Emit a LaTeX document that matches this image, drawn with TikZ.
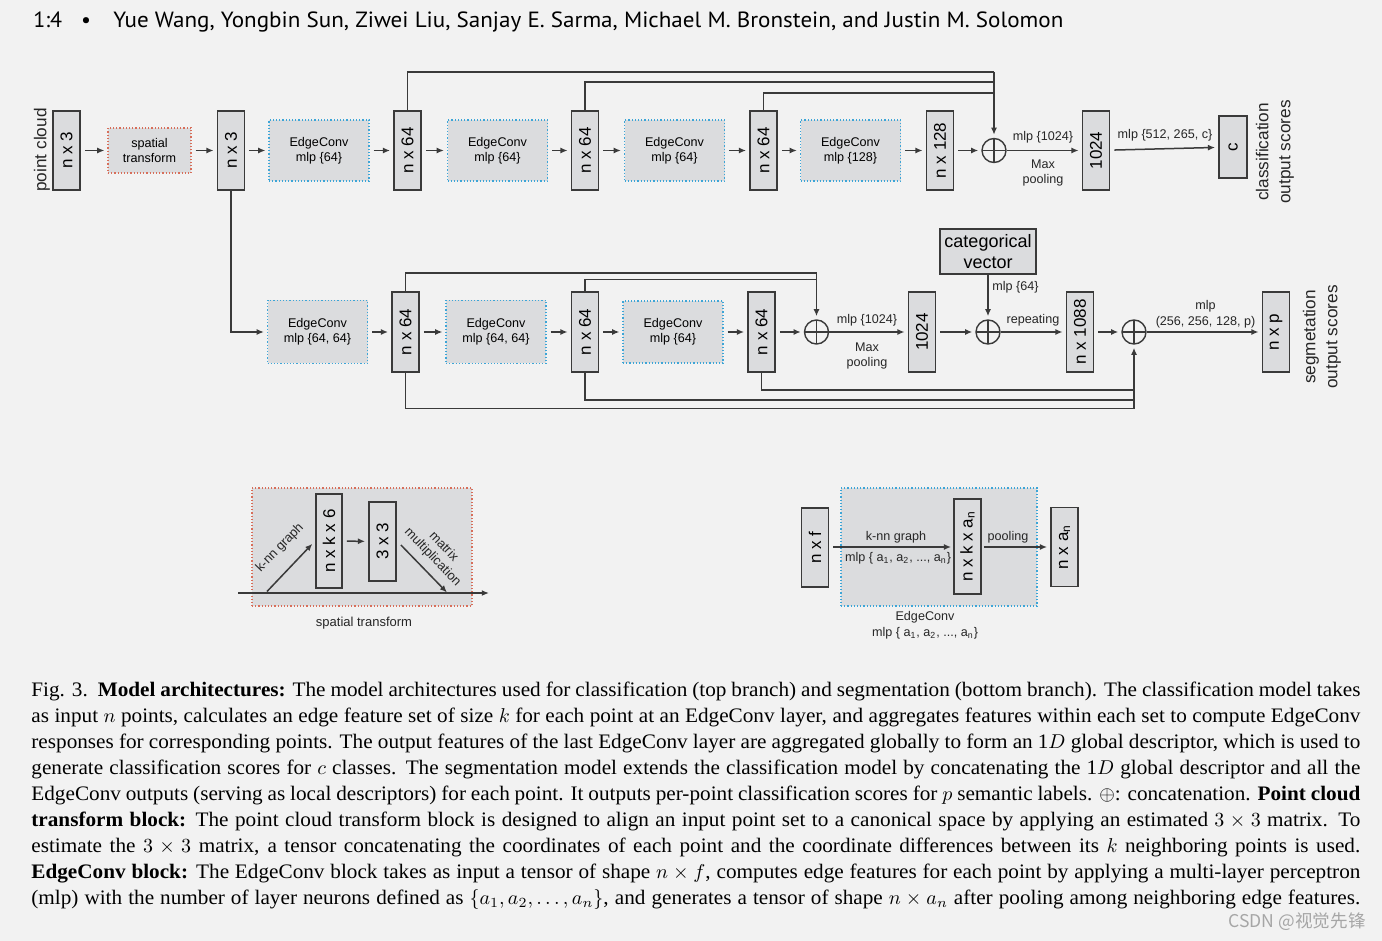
\documentclass[tikz,border=0pt]{standalone}
\usepackage{fontspec}
\setmainfont{Liberation Serif}[FakeStretch=1.03]
\newfontfamily\dia{Liberation Sans}
\newfontfamily\hdr{PT Sans}
\newfontfamily\cjk{Noto Sans CJK SC}
\usetikzlibrary{arrows.meta,calc}
\definecolor{bg}{RGB}{242,242,242}
\definecolor{boxfill}{RGB}{219,220,222}
\definecolor{linec}{RGB}{58,58,58}
\definecolor{ecblue}{RGB}{60,165,215}
\definecolor{stred}{RGB}{215,110,90}
\newcommand\rotlabel[1]{\rotatebox{90}{#1}}
\begin{document}
\begin{tikzpicture}[x=0.5pt,y=-0.5pt,
  tensor/.style={draw=linec,fill=boxfill,line width=0.9pt,inner sep=0pt,minimum width=13.5pt,minimum height=39.5pt,font=\dia\fontsize{8.5}{10}\selectfont},
  tensorline/.style={tensor,fill=none},
  ecbox/.style={draw=ecblue,densely dotted,line width=0.6pt,fill=boxfill,inner sep=0pt,minimum width=50pt,minimum height=30.5pt,align=center,font=\dia\fontsize{6.3}{7.4}\selectfont},
  stbox/.style={ecbox,draw=stred},
  opl/.style={circle,draw=linec,line width=0.7pt,minimum size=12pt,inner sep=0pt,
    path picture={\draw[linec,line width=0.6pt] (path picture bounding box.north) -- (path picture bounding box.south) (path picture bounding box.west) -- (path picture bounding box.east);}},
  arr/.style={draw=linec,line width=0.75pt,-{Latex[length=3.6pt,width=3pt]},shorten <=2pt,shorten >=1.5pt},
  conn/.style={draw=linec,line width=0.75pt},
  lbl/.style={inner sep=0pt,align=center,text=black!85,font=\dia\fontsize{6.3}{7.5}\selectfont},
  rotl/.style={inner sep=0pt,align=center,rotate=90,text=black!85,font=\dia\fontsize{8.6}{11}\selectfont},
  capline/.style={anchor=base west,inner sep=0pt,font=\fontsize{10.3}{13}\selectfont}
]
\path[use as bounding box,fill=bg] (0,0) rectangle (1382,941);

% ---------- header ----------
\node[anchor=base west,inner sep=0pt,font=\hdr\fontsize{11}{13}\selectfont] (hp) at (33,28) {1:4};
\node[anchor=base,inner sep=0pt,font=\hdr\fontsize{11}{13}\selectfont] (hb) at (86,28) {•};
\node[anchor=base west,inner sep=0pt,font=\hdr\fontsize{11}{13}\selectfont] (ha) at (113,28) {\resizebox{475pt}{\height}{Yue Wang, Yongbin Sun, Ziwei Liu, Sanjay E. Sarma, Michael M. Bronstein, and Justin M. Solomon}};

% ---------- top branch ----------
\node[rotl] (pcl) at (42,150) {point cloud};
\node[tensor] (pc) at (66.5,150.5) {\rotlabel{n x 3}};
\node[stbox,minimum width=41.5pt,minimum height=22.5pt] (st) at (149.5,150.5) {spatial\\transform};
\node[tensor] (t1) at (231,150.5) {\rotlabel{n x 3}};
\node[ecbox] (e1) at (319,150.5) {EdgeConv\\mlp \{64\}};
\node[tensor] (t2) at (407.5,150.5) {\rotlabel{n x 64}};
\node[ecbox] (e2) at (497.5,150.5) {EdgeConv\\mlp \{64\}};
\node[tensor] (t3) at (585,150.5) {\rotlabel{n x 64}};
\node[ecbox] (e3) at (674.5,150.5) {EdgeConv\\mlp \{64\}};
\node[tensor] (t4) at (763.5,150.5) {\rotlabel{n x 64}};
\node[ecbox] (e4) at (850.5,150.5) {EdgeConv\\mlp \{128\}};
\node[tensor] (t5) at (940,150.5) {\rotlabel{n x 128}};
\node[opl] (c1) at (994,150.5) {};
\node[tensor] (g1) at (1096,150.5) {\rotlabel{1024}};
\node[tensor,minimum width=14pt,minimum height=31pt] (oc) at (1233,147) {\rotlabel{c}};
\node[rotl] (ocl) at (1275,152) {classification\\output scores};

\draw[arr] (pc) -- (st);
\draw[arr] (st) -- (t1);
\draw[arr] (t1) -- (e1);
\draw[arr] (e1) -- (t2);
\draw[arr] (t2) -- (e2);
\draw[arr] (e2) -- (t3);
\draw[arr] (t3) -- (e3);
\draw[arr] (e3) -- (t4);
\draw[arr] (t4) -- (e4);
\draw[arr] (e4) -- (t5);
\draw[arr] (t5) -- (c1);
\draw[arr,shorten <=0pt] (c1) -- (g1);
\draw[arr] (g1) -- (oc);

\coordinate (k1) at (994,72);
\coordinate (k2) at (994,82);
\coordinate (k3) at (994,93);
\draw[conn] (t2.north) |- (k1);
\draw[conn] (t3.north) |- (k2);
\draw[conn] (t4.north) |- (k3);
\draw[arr,shorten <=0pt] (k1) -- (c1.north);

\node[lbl] (l1a) at (1043,137) {mlp \{1024\}};
\node[lbl] (l1b) at (1043,173) {Max\\pooling};
\node[lbl] (l1c) at (1165,135) {mlp \{512, 265, c\}};

% ---------- bottom branch ----------
\node[ecbox,minimum height=31.5pt] (b1) at (317.5,332) {EdgeConv\\mlp \{64, 64\}};
\node[tensor,minimum height=40pt] (u1) at (405.5,332) {\rotlabel{n x 64}};
\node[ecbox,minimum height=31.5pt] (b2) at (496,332) {EdgeConv\\mlp \{64, 64\}};
\node[tensor,minimum height=40pt] (u2) at (585,332) {\rotlabel{n x 64}};
\node[ecbox,minimum height=31pt] (b3) at (673,332) {EdgeConv\\mlp \{64\}};
\node[tensor,minimum height=40pt] (u3) at (761.5,332) {\rotlabel{n x 64}};
\node[opl] (c2) at (816.5,332) {};
\node[tensor,minimum height=40pt] (g2) at (922,332) {\rotlabel{1024}};
\node[opl] (c3) at (988,332) {};
\node[draw=linec,fill=boxfill,line width=0.9pt,inner sep=0pt,minimum width=48pt,minimum height=22.5pt,align=center,font=\dia\fontsize{9}{10.3}\selectfont] (cv) at (988,251.5) {categorical\\vector};
\node[tensor,minimum height=40pt] (rp) at (1080,332) {\rotlabel{n x 1088}};
\node[opl] (c4) at (1134,332) {};
\node[tensor,minimum height=40pt] (sp) at (1276,332) {\rotlabel{n x p}};
\node[rotl] (spl) at (1322,337) {segmetation\\output scores};

\draw[arr,shorten <=0pt] (t1.south) |- (b1.west);
\draw[arr] (b1) -- (u1);
\draw[arr] (u1) -- (b2);
\draw[arr] (b2) -- (u2);
\draw[arr] (u2) -- (b3);
\draw[arr] (b3) -- (u3);
\draw[arr] (u3) -- (c2);
\draw[arr,shorten <=0pt] (c2) -- (g2);
\draw[arr] (g2) -- (c3);
\draw[arr,shorten <=0pt] (c3) -- (rp);
\draw[arr] (rp) -- (c4);
\draw[arr,shorten <=0pt] (c4) -- (sp);
\draw[arr,shorten <=0pt] (cv) -- (c3);

\coordinate (m1) at (816.5,273);
\coordinate (m2) at (816.5,279.5);
\draw[conn] (u1.north) |- (m1);
\draw[conn] (u2.north) |- (m2);
\draw[arr,shorten <=0pt] (m1) -- (c2.north);

\coordinate (q1) at (1134,390);
\coordinate (q2) at (1134,400);
\coordinate (q3) at (1134,408.5);
\draw[conn] (u3.south) |- (q1);
\draw[conn] (u2.south) |- (q2);
\draw[conn] (u1.south) |- (q3);
\draw[arr,shorten <=0pt] (q3) -- (c4.south);

\node[lbl] (l2a) at (867,320) {mlp \{1024\}};
\node[lbl] (l2b) at (867,356) {Max\\pooling};
\node[lbl,anchor=west] (l2c) at (992,287) {mlp \{64\}};
\node[lbl] (l2d) at (1033,320) {repeating};
\node[lbl,font=\dia\fontsize{6.3}{7.9}\selectfont] (l2e) at (1205.5,314) {mlp\\(256, 256, 128, p)};

% ---------- spatial transform block ----------
\node[stbox,minimum width=110pt,minimum height=59pt] (sb) at (362,547) {};
\node[tensorline,minimum height=47pt,minimum width=13pt] (nk6) at (329,541) {\rotlabel{n x k x 6}};
\node[tensorline,minimum height=39.5pt] (m33) at (382.5,541.5) {\rotlabel{3 x 3}};
\draw[arr] (nk6) -- (m33);
\coordinate (hl) at (238,593);
\coordinate (hr) at (489,593);
\draw[arr,shorten <=0pt,shorten >=0pt] (hl) -- (hr);
\coordinate (ka) at (267,591.5);
\draw[arr,shorten <=0pt,shorten >=0.5pt] (ka) -- ($(nk6.west)+(-2,2)$);
\coordinate (mb) at (447,592.5);
\draw[arr,shorten <=0pt,shorten >=0pt] ($(m33.east)+(4,3.5)$) -- (mb);
\node[lbl,rotate=46,font=\dia\fontsize{6.5}{7.6}\selectfont] (knl) at (280,548) {k-nn graph};
\node[lbl,rotate=-46,font=\dia\fontsize{6.5}{7.6}\selectfont] (mml) at (438,552) {matrix\\multiplication};
\node[lbl,font=\dia\fontsize{6.5}{7.6}\selectfont] (stl) at (364,623) {spatial transform};

% ---------- EdgeConv block ----------
\node[ecbox,minimum width=98pt,minimum height=59pt] (eb) at (939,547) {};
\node[tensor] (nf) at (815,547.5) {\rotlabel{n x f}};
\node[tensorline,minimum height=47.5pt] (nka) at (967.5,546.5) {\rotlabel{n x k x a\textsubscript{n}}};
\node[tensor] (na) at (1064.5,547) {\rotlabel{n x a\textsubscript{n}}};
\draw[arr,shorten >=1pt] (nf.east |- 0,547) -- (nka.west |- 0,547);
\draw[arr,shorten <=1pt] (nka.east |- 0,547) -- (na.west |- 0,547);
\node[lbl] (kg) at (896,537) {k-nn graph};
\node[lbl] (mg) at (898,558) {mlp \{ a\textsubscript{1}, a\textsubscript{2}, ..., a\textsubscript{n}\}};
\node[lbl] (pl) at (1008,537) {pooling};
\node[lbl,font=\dia\fontsize{6.3}{7.8}\selectfont] (ecl) at (925,625) {EdgeConv\\mlp \{ a\textsubscript{1}, a\textsubscript{2}, ..., a\textsubscript{n}\}};

% ---------- caption ----------
\node[capline] (cl1) at (31,696.7) {\makebox[664.5pt][s]{Fig. 3.\ \ \textbf{Model architectures:} The model architectures used for classification (top branch) and segmentation (bottom branch). The classification model takes}};
\node[capline] (cl2) at (31,722.7) {\makebox[664.5pt][s]{as input $n$ points, calculates an edge feature set of size $k$ for each point at an EdgeConv layer, and aggregates features within each set to compute EdgeConv}};
\node[capline] (cl3) at (31,748.7) {\makebox[664.5pt][s]{responses for corresponding points. The output features of the last EdgeConv layer are aggregated globally to form an 1$D$ global descriptor, which is used to}};
\node[capline] (cl4) at (31,774.7) {\makebox[664.5pt][s]{generate classification scores for $c$ classes. The segmentation model extends the classification model by concatenating the 1$D$ global descriptor and all the}};
\node[capline] (cl5) at (31,800.7) {\makebox[664.5pt][s]{EdgeConv outputs (serving as local descriptors) for each point. It outputs per-point classification scores for $p$ semantic labels. $\oplus$: concatenation. \textbf{Point cloud}}};
\node[capline] (cl6) at (31,826.7) {\makebox[664.5pt][s]{\textbf{transform block:} The point cloud transform block is designed to align an input point set to a canonical space by applying an estimated $3\times3$ matrix. To}};
\node[capline] (cl7) at (31,852.7) {\makebox[664.5pt][s]{estimate the $3\times3$ matrix, a tensor concatenating the coordinates of each point and the coordinate differences between its $k$ neighboring points is used.}};
\node[capline] (cl8) at (31,878.7) {\makebox[664.5pt][s]{\textbf{EdgeConv block:} The EdgeConv block takes as input a tensor of shape $n\times f$, computes edge features for each point by applying a multi-layer perceptron}};
\node[capline] (cl9) at (31,904.7) {\makebox[664.5pt][s]{(mlp) with the number of layer neurons defined as $\{a_1, a_2, \ldots, a_n\}$, and generates a tensor of shape $n\times a_n$ after pooling among neighboring edge features.}};

\node[anchor=base east,inner sep=0pt,text=black!35,font=\cjk\fontsize{8.8}{10}\selectfont] (wm) at (1366,927) {CSDN @视觉先锋};
\end{tikzpicture}
\end{document}
